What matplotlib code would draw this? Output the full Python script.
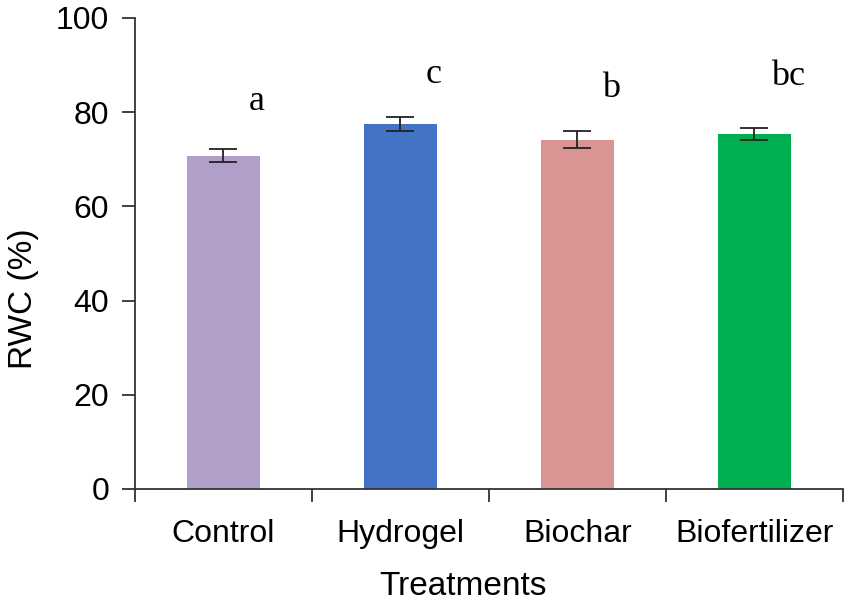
import matplotlib
matplotlib.use("Agg")
import matplotlib.pyplot as plt

categories = ["Control", "Hydrogel", "Biochar", "Biofertilizer"]
rwc = [70.8, 77.5, 74.2, 75.4]
err = [1.3, 1.5, 1.8, 1.3]
letters = ["a", "c", "b", "bc"]
letter_y = [80.5, 86.2, 83.2, 85.8]
colors = ["#B19FC9", "#4472C4", "#D99594", "#00B050"]
yticks = [0, 20, 40, 60, 80, 100]

plt.rcParams['font.family'] = ['Liberation Sans', 'DejaVu Sans']
fig = plt.figure(figsize=(8.51, 6.04), dpi=100)
ax = fig.add_axes([0.1586, 0.1904, 0.8320, 0.7798])

x = list(range(len(categories)))
ax.bar(x, rwc, width=0.41, color=colors, zorder=2)
ax.errorbar(x, rwc, yerr=err, fmt='none', ecolor='#222222', elinewidth=1.3,
            capsize=10, capthick=1.3, zorder=3)
for xi, l, ly in zip(x, letters, letter_y):
    ax.text(xi + 0.19, ly, l, ha='center', va='baseline', fontsize=26,
            family=['Liberation Serif', 'DejaVu Serif'], color='black')

ax.set_xlim(-0.5, 3.5)
ax.set_ylim(0, 100)
ax.set_yticks(yticks)
ax.set_yticklabels([str(t) for t in yticks], fontsize=23)
ax.set_xticks([i - 0.5 for i in range(len(categories) + 1)])
ax.set_xticklabels([])
ax.set_xticks(x, minor=True)
ax.set_xticklabels(categories, minor=True, fontsize=23)
ax.tick_params(axis='x', which='minor', length=0, pad=21.5)
ax.tick_params(axis='x', which='major', length=9.5, width=1.3, color='#333333')
ax.tick_params(axis='y', length=9.5, width=1.3, color='#333333', pad=9)
for s in ['top', 'right']:
    ax.spines[s].set_visible(False)
for s in ['left', 'bottom']:
    ax.spines[s].set_linewidth(1.3)
    ax.spines[s].set_color('#333333')
ax.set_xlabel("Treatments", fontsize=24)
ax.set_ylabel("RWC (%)", fontsize=24)
ax.xaxis.set_label_coords(0.463, -0.175)
ax.yaxis.set_label_coords(-0.136, 0.405)

fig.savefig("out.png", dpi=100)
